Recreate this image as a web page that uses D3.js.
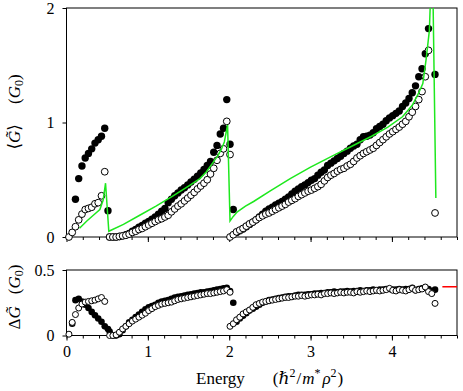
<!DOCTYPE html>
<html>
<head>
<meta charset="utf-8">
<script src="https://cdn.jsdelivr.net/npm/d3@7"></script>
<style>
	body { margin: 0; background: #fff; }
	text { font-family: "Liberation Serif", "DejaVu Serif", serif; fill: #000; }
</style>
</head>
<body>
<svg id="chart" width="463" height="391"></svg>
<script>
// energy grids (hbar^2 / m* rho^2), one per subband segment
const seg1Energy = [0.03, 0.07, 0.11, 0.15, 0.19, 0.23, 0.27, 0.31, 0.35, 0.39, 0.43, 0.47, 0.51];
const seg2Energy = [0.53, 0.57, 0.61, 0.65, 0.69, 0.73, 0.77, 0.81, 0.85, 0.89, 0.93, 0.97, 1.01, 1.05, 1.09, 1.13, 1.17, 1.21, 1.25, 1.29,
	1.33, 1.37, 1.41, 1.45, 1.49, 1.53, 1.57, 1.61, 1.65, 1.69, 1.73, 1.77, 1.81, 1.85, 1.89, 1.93, 1.97, 2.01];
const seg3Energy = [2.01, 2.05, 2.09, 2.13, 2.17, 2.21, 2.25, 2.29, 2.33, 2.37, 2.41, 2.45, 2.49, 2.53, 2.57, 2.61, 2.65, 2.69, 2.73, 2.77,
	2.81, 2.85, 2.89, 2.93, 2.97, 3.01, 3.05, 3.09, 3.13, 3.17, 3.21, 3.25, 3.29, 3.33, 3.37, 3.41, 3.45, 3.49, 3.53, 3.57,
	3.61, 3.65, 3.69, 3.73, 3.77, 3.81, 3.85, 3.89, 3.93, 3.97, 4.01, 4.05, 4.09, 4.13, 4.17, 4.21, 4.25, 4.29, 4.33, 4.37,
	4.41, 4.45, 4.49, 4.53];

// mean conductance <G> (G0), filled and open symbols
const seg1Filled = [null, null, 0.33, 0.51, 0.62, 0.69, 0.73, 0.77, 0.82, 0.85, 0.88, 0.95, 0.23];
const seg1Open = [0.0, 0.04, 0.09, 0.15, 0.20, 0.24, 0.25, 0.26, 0.29, 0.30, 0.36, 0.57, null];
const seg2Filled = [0, 0, 0, 0.005, 0.01, 0.02, 0.03, 0.05, 0.065, 0.085, 0.10, 0.12, 0.135, 0.155, 0.175, 0.20, 0.225, 0.25, 0.30, 0.33,
	0.36, 0.385, 0.41, 0.43, 0.455, 0.48, 0.505, 0.53, 0.56, 0.59, 0.625, 0.66, 0.74, 0.80, 0.90, 0.95, 1.20, 0.81];
const seg2Open = [0, 0, 0, 0.005, 0.01, 0.015, 0.025, 0.04, 0.05, 0.065, 0.075, 0.09, 0.105, 0.12, 0.135, 0.15, 0.16, 0.175, 0.19, 0.22,
	0.245, 0.27, 0.29, 0.315, 0.34, 0.365, 0.39, 0.42, 0.445, 0.47, 0.50, 0.55, 0.60, 0.67, 0.73, 0.77, 1.01, 0.72];
const seg3Filled = [null, 0.24, 0.04, 0.055, 0.07, 0.09, 0.11, 0.13, 0.15, 0.175, 0.20, 0.225, 0.245, 0.26, 0.28, 0.295, 0.31, 0.33, 0.35, 0.375,
	0.40, 0.42, 0.44, 0.455, 0.475, 0.495, 0.51, 0.54, 0.565, 0.585, 0.625, 0.645, 0.665, 0.685, 0.705, 0.73, 0.75, 0.775, 0.795, 0.81,
	0.85, 0.875, 0.88, 0.89, 0.91, 0.945, 0.965, 0.985, 1.015, 1.04, 1.06, 1.08, 1.10, 1.14, 1.17, 1.21, 1.26, 1.32, 1.40, 1.47,
	1.60, 1.82, null, 1.42];
const seg3Open = [0.0, 0.02, 0.045, 0.06, 0.075, 0.095, 0.115, 0.13, 0.15, 0.17, 0.185, 0.20, 0.21, 0.225, 0.24, 0.255, 0.27, 0.285, 0.305, 0.32,
	0.335, 0.355, 0.37, 0.385, 0.40, 0.41, 0.425, 0.44, 0.46, 0.49, 0.52, 0.54, 0.555, 0.575, 0.59, 0.60, 0.62, 0.635, 0.66, 0.69,
	0.71, 0.73, 0.745, 0.76, 0.775, 0.80, 0.825, 0.85, 0.875, 0.90, 0.92, 0.94, 0.96, 0.985, 1.01, 1.05, 1.09, 1.14, 1.20, 1.27,
	1.40, 1.63, null, 0.21];

// theory curve (green)
const theoryEnergy = [0.16, 0.25, 0.33, 0.41, 0.45, 0.48, 0.52, 0.7, 0.9, 1.1, 1.3, 1.5, 1.64, 1.72, 1.80, 1.86, 1.90, 1.94, 1.98, 2.01,
	2.05, 2.1, 2.2, 2.3, 2.5, 2.75, 3.0, 3.3, 3.5, 3.75, 3.95, 4.13, 4.25, 4.33, 4.38, 4.42, 4.46, 4.475, 4.505, 4.54];
const theoryG = [0.076, 0.14, 0.19, 0.24, 0.32, 0.47, 0.05, 0.11, 0.19, 0.27, 0.355, 0.445, 0.51, 0.57, 0.65, 0.71, 0.76, 0.83, 0.98, 0.14,
	0.18, 0.22, 0.27, 0.31, 0.40, 0.51, 0.61, 0.72, 0.79, 0.88, 0.96, 1.05, 1.15, 1.26, 1.34, 1.55, 1.80, 2.1, 2.1, 0.34];

// fluctuation dG (G0)
const seg1DeltaFilled = [null, 0.09, 0.27, 0.28, 0.26, 0.235, 0.21, 0.18, 0.155, 0.13, 0.105, 0.07, 0.05];
const seg1DeltaOpen = [0.01, 0.10, 0.16, 0.21, 0.24, 0.255, 0.26, 0.265, 0.27, 0.28, 0.29, 0.26, null];
const seg2DeltaFilled = [0.03, 0, 0, 0.01, 0.04, 0.07, 0.10, 0.12, 0.14, 0.16, 0.18, 0.20, 0.215, 0.225, 0.235, 0.25, 0.26, 0.265, 0.27, 0.28,
	0.29, 0.295, 0.30, 0.305, 0.31, 0.315, 0.32, 0.325, 0.33, 0.33, 0.335, 0.34, 0.345, 0.35, 0.355, 0.36, 0.365, 0.34];
const seg2DeltaOpen = [0, 0, 0.005, 0.025, 0.05, 0.07, 0.09, 0.11, 0.125, 0.14, 0.155, 0.17, 0.19, 0.205, 0.22, 0.23, 0.24, 0.245, 0.25, 0.255,
	0.265, 0.275, 0.28, 0.285, 0.29, 0.295, 0.30, 0.305, 0.31, 0.315, 0.32, 0.32, 0.325, 0.33, 0.335, 0.34, 0.35, 0.33];
const seg3DeltaFilled = [null, 0.25, 0.105, 0.13, 0.15, 0.17, 0.19, 0.205, 0.22, 0.235, 0.25, 0.26, 0.27, 0.275, 0.28, 0.285, 0.29, 0.295, 0.30, 0.30,
	0.305, 0.31, 0.31, 0.31, 0.315, 0.315, 0.32, 0.32, 0.325, 0.325, 0.33, 0.33, 0.335, 0.33, 0.335, 0.335, 0.34, 0.335, 0.34, 0.34,
	0.345, 0.34, 0.345, 0.345, 0.35, 0.345, 0.35, 0.35, 0.355, 0.355, 0.35, 0.35, 0.355, 0.35, 0.355, 0.355, 0.365, 0.345, 0.355, 0.36,
	0.365, 0.355, 0.34, 0.35];
const seg3DeltaOpen = [0.07, 0.09, 0.12, 0.14, 0.165, 0.18, 0.195, 0.215, 0.235, 0.245, 0.255, 0.26, 0.265, 0.27, 0.275, 0.28, 0.285, 0.29, 0.29, 0.295,
	0.30, 0.30, 0.305, 0.30, 0.305, 0.31, 0.31, 0.315, 0.31, 0.32, 0.32, 0.325, 0.32, 0.325, 0.33, 0.325, 0.33, 0.33, 0.325, 0.335,
	0.33, 0.335, 0.34, 0.335, 0.34, 0.345, 0.34, 0.345, 0.35, 0.36, 0.345, 0.34, 0.35, 0.345, 0.34, 0.35, 0.36, 0.345, 0.35, 0.355,
	0.37, 0.335, 0.32, 0.245];

// saturation level (red)
const saturationEnergy = [4.62, 4.8];
const saturationDelta = [0.372, 0.372];

const xTickMajor = [0, 1, 2, 3, 4];
const xTickMinor = [0, 0.2, 0.4, 0.6, 0.8, 1, 1.2, 1.4, 1.6, 1.8, 2, 2.2, 2.4, 2.6, 2.8, 3, 3.2, 3.4, 3.6, 3.8, 4, 4.2, 4.4, 4.6, 4.8];
const yTopTicks = [0, 1, 2];
const yBotTicks = [0, 0.5];

const svg = d3.select('#chart');

const x = d3.scaleLinear().domain([0, 4.8]).range([66.5, 457]);
const yTop = d3.scaleLinear().domain([0, 2]).range([237, 8]);
const yBot = d3.scaleLinear().domain([0, 0.5]).range([335.5, 270]);

function zip(energy, values) {
	return energy
		.map((e, i) => [e, values[i]])
		.filter((d) => d[1] != null);
}

function drawFrame(y, yTicks, labelX) {
	let [y0, y1] = y.range();

	let g = svg.append('g');

	let minor = d3.axisBottom(x).tickValues(xTickMinor).tickSize(3).tickFormat('');
	let major = d3.axisBottom(x).tickValues(xTickMajor).tickSize(5).tickPadding(5)
		.tickFormat(labelX ? d3.format('d') : '');

	g.append('g').attr('transform', `translate(0,${y0})`).call(minor);
	g.append('g').attr('transform', `translate(0,${y0})`).call(major);

	g.append('g')
		.attr('transform', `translate(${x.range()[0]},0)`)
		.call(
			d3.axisLeft(y).tickValues(yTicks).tickSize(4).tickPadding(8)
				.tickFormat((d) => d === 0 ? '0' : String(d))
		);

	g.selectAll('.domain').remove();
	g.selectAll('.tick line').attr('stroke', '#000');
	g.selectAll('.tick text')
		.style('font-family', '"Liberation Serif", "DejaVu Serif", serif')
		.style('font-size', '16px');

	g.append('rect')
		.attr('x', x.range()[0])
		.attr('y', y1)
		.attr('width', x.range()[1] - x.range()[0])
		.attr('height', y0 - y1)
		.attr('fill', 'none')
		.attr('stroke', '#000')
		.attr('stroke-width', 1);
}

function drawPoints(y, filledSets, openSets, r) {
	let g = svg.append('g');

	filledSets.forEach((pts) => {
		g.selectAll(null)
			.data(pts)
			.enter()
			.append('circle')
			.attr('cx', (d) => x(d[0]))
			.attr('cy', (d) => y(d[1]))
			.attr('r', r + 0.3)
			.attr('fill', '#000');
	});

	openSets.forEach((pts) => {
		g.selectAll(null)
			.data(pts)
			.enter()
			.append('circle')
			.attr('cx', (d) => x(d[0]))
			.attr('cy', (d) => y(d[1]))
			.attr('r', r)
			.attr('fill', '#fff')
			.attr('stroke', '#000')
			.attr('stroke-width', 1);
	});
}

// top panel
svg.append('clipPath')
	.attr('id', 'clipTop')
	.append('rect')
	.attr('x', x.range()[0])
	.attr('y', yTop.range()[1])
	.attr('width', x.range()[1] - x.range()[0])
	.attr('height', yTop.range()[0] - yTop.range()[1]);

drawFrame(yTop, yTopTicks, false);

drawPoints(
	yTop,
	[zip(seg1Energy, seg1Filled), zip(seg2Energy, seg2Filled), zip(seg3Energy, seg3Filled)],
	[zip(seg1Energy, seg1Open), zip(seg2Energy, seg2Open), zip(seg3Energy, seg3Open)],
	3.4
);

svg.append('path')
	.datum(zip(theoryEnergy, theoryG))
	.attr('clip-path', 'url(#clipTop)')
	.attr('fill', 'none')
	.attr('stroke', '#1ee81e')
	.attr('stroke-width', 1.5)
	.attr('d', d3.line().x((d) => x(d[0])).y((d) => yTop(d[1])));

// bottom panel
drawFrame(yBot, yBotTicks, true);

drawPoints(
	yBot,
	[zip(seg1Energy, seg1DeltaFilled), zip(seg2Energy, seg2DeltaFilled), zip(seg3Energy, seg3DeltaFilled)],
	[zip(seg1Energy, seg1DeltaOpen), zip(seg2Energy, seg2DeltaOpen), zip(seg3Energy, seg3DeltaOpen)],
	3.0
);

svg.append('path')
	.datum(zip(saturationEnergy, saturationDelta))
	.attr('fill', 'none')
	.attr('stroke', '#f00')
	.attr('stroke-width', 1.5)
	.attr('d', d3.line().x((d) => x(d[0])).y((d) => yBot(d[1])));

// axis titles
let topTitle = svg.append('text')
	.attr('transform', 'translate(20,112) rotate(-90)')
	.attr('text-anchor', 'middle')
	.style('font-size', '17px');
topTitle.append('tspan').text('\u27E8');
topTitle.append('tspan').style('font-style', 'italic').text('G\u0303');
topTitle.append('tspan').text('\u27E9');
topTitle.append('tspan').attr('dx', 20).text('(');
topTitle.append('tspan').style('font-style', 'italic').text('G');
topTitle.append('tspan').attr('dy', 3).style('font-size', '12px').text('0');
topTitle.append('tspan').attr('dy', -3).text(')');

let botTitle = svg.append('text')
	.attr('transform', 'translate(20,297) rotate(-90)')
	.attr('text-anchor', 'middle')
	.style('font-size', '17px');
botTitle.append('tspan').text('\u0394');
botTitle.append('tspan').style('font-style', 'italic').text('G\u0303');
botTitle.append('tspan').attr('dx', 12).text('(');
botTitle.append('tspan').style('font-style', 'italic').text('G');
botTitle.append('tspan').attr('dy', 3).style('font-size', '12px').text('0');
botTitle.append('tspan').attr('dy', -3).text(')');

let xTitle = svg.append('text')
	.attr('x', 196)
	.attr('y', 384)
	.style('font-size', '17px');
xTitle.append('tspan').text('Energy');
xTitle.append('tspan').attr('dx', 28).text('(');
xTitle.append('tspan').style('font-style', 'italic').text('\u210F');
xTitle.append('tspan').attr('dy', -7).style('font-size', '12px').text('2');
xTitle.append('tspan').attr('dy', 7).attr('dx', 1).text('/');
xTitle.append('tspan').attr('dx', 1).style('font-style', 'italic').text('m');
xTitle.append('tspan').attr('dy', -7).style('font-size', '12px').text('*');
xTitle.append('tspan').attr('dy', 7).attr('dx', 2).style('font-style', 'italic').text('\u03C1');
xTitle.append('tspan').attr('dy', -7).style('font-size', '12px').text('2');
xTitle.append('tspan').attr('dy', 7).attr('dx', 1).text(')');
</script>
</body>
</html>
